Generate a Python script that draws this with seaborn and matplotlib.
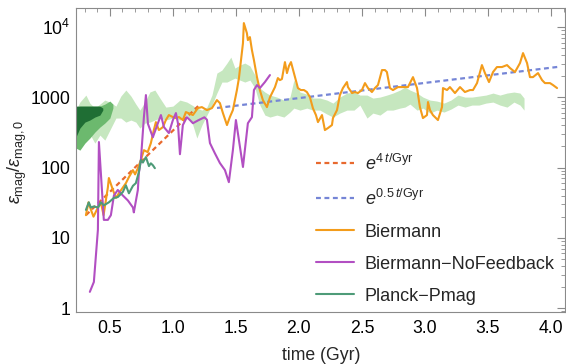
import numpy as np
import pandas as pd
import matplotlib
matplotlib.use("Agg")
import matplotlib.pyplot as plt
import seaborn as sns
from matplotlib.lines import Line2D
from matplotlib.ticker import FixedLocator, FixedFormatter, LogLocator, MultipleLocator, NullFormatter, FormatStrFormatter

# ---------------- data ----------------
# exponential fits (straight lines on the log axis between their end points)
fit4_t = [0.31, 1.20]
fit4_v = [21.0, 750.0]
fit05_t = [1.35, 4.06]
fit05_v = [706.0, 2720.0]

bier_t = [0.31, 0.33, 0.35, 0.37, 0.405, 0.43, 0.45, 0.484, 0.492, 0.524, 0.548, 0.571,
          0.603, 0.627, 0.651, 0.683, 0.70, 0.722, 0.746, 0.77, 0.80, 0.825, 0.849, 0.865,
          0.889, 0.921, 0.944, 0.968, 1.0, 1.024, 1.048, 1.079, 1.103, 1.159, 1.198, 1.23,
          1.27, 1.31, 1.349, 1.373, 1.397, 1.429, 1.452, 1.476, 1.508, 1.524, 1.54, 1.556,
          1.563, 1.587, 1.595, 1.611, 1.627, 1.643, 1.667, 1.69, 1.714, 1.746, 1.77, 1.81,
          1.833, 1.849, 1.865, 1.889, 1.905, 1.921, 1.937, 1.96, 1.992, 2.015, 2.04, 2.063,
          2.087, 2.111, 2.135, 2.151, 2.183, 2.206, 2.23, 2.262, 2.27, 2.302, 2.325, 2.349,
          2.381, 2.389, 2.421, 2.444, 2.468, 2.5, 2.524, 2.548, 2.579, 2.603, 2.627, 2.659,
          2.683, 2.698, 2.722, 2.746, 2.786, 2.825, 2.865, 2.905, 2.937, 2.96, 2.984, 3.016,
          3.024, 3.04, 3.063, 3.103, 3.135, 3.143, 3.175, 3.198, 3.238, 3.278, 3.317, 3.357,
          3.381, 3.413, 3.452, 3.476, 3.508, 3.54, 3.571, 3.611, 3.651, 3.675, 3.714, 3.754,
          3.778, 3.81, 3.833, 3.857, 3.897, 3.929, 3.952, 3.992, 4.016, 4.048]
bier_v = [21, 32, 25, 20, 27, 31, 21, 52, 71, 48, 37, 43,
          52, 60, 73, 92, 80, 98, 128, 177, 166, 222, 343, 444,
          342, 377, 475, 559, 524, 507, 524, 475, 617, 560, 703, 726,
          658, 703, 914, 828, 597, 403, 524, 658, 1270, 1880, 3390, 5920,
          11400, 8220, 6530, 7210, 4710, 3390, 1940, 1270, 914, 726, 1000, 1400,
          1880, 1760, 1820, 3175, 2215, 2800, 3175, 2215, 1355, 1270, 1270, 1190,
          1008, 700, 559, 444, 559, 342, 365, 403, 507, 658, 1077, 1355,
          1650, 1400, 1150, 1190, 1150, 1270, 1595, 1355, 1190, 1355, 1495, 2445,
          2445, 2290, 1355, 1270, 1400, 1400, 1400, 1940, 1355, 726, 507, 559,
          856, 658, 559, 475, 726, 1355, 1270, 1400, 1150, 1400, 1190, 1270,
          1270, 1595, 2880, 2215, 1650, 2290, 2700, 2700, 2880, 2610, 2290, 3075,
          4265, 3075, 1940, 1940, 2215, 1760, 1595, 1595, 1495, 1355]

nofb_t = [0.341, 0.373, 0.405, 0.413, 0.452, 0.484, 0.508, 0.532, 0.563, 0.603, 0.643,
          0.683, 0.69, 0.722, 0.73, 0.746, 0.77, 0.786, 0.802, 0.841, 0.881, 0.905, 0.929,
          0.968, 1.0, 1.024, 1.04, 1.056, 1.079, 1.111, 1.135, 1.159, 1.2, 1.25, 1.27,
          1.294, 1.333, 1.373, 1.413, 1.444, 1.476, 1.5, 1.524, 1.556, 1.595, 1.627,
          1.643, 1.667, 1.69, 1.73, 1.77]
nofb_v = [1.7, 2.35, 13, 231, 18, 18, 21, 40, 48, 40, 34,
          27, 23, 48, 84, 128, 524, 1077, 420, 270, 428, 559, 377,
          310, 475, 597, 428, 155, 403, 522, 475, 428, 470, 520, 480,
          223, 160, 116, 92, 62, 177, 475, 246, 102, 428, 522,
          1270, 1495, 1355, 1650, 2075]

pmag_t = [0.31, 0.333, 0.349, 0.373, 0.405, 0.429, 0.452, 0.492, 0.532, 0.563, 0.603,
          0.627, 0.651, 0.683, 0.706, 0.73, 0.746, 0.762, 0.786, 0.81, 0.825, 0.841, 0.857]
pmag_v = [25, 32, 27, 28, 27, 32, 29, 32, 37, 38, 45,
          56, 43, 55, 60, 86, 128, 118, 141, 105, 115, 108, 98]

# shaded ranges (light, medium, dark green)
light_t = [0.230, 0.262, 0.310, 0.341, 0.381, 0.421, 0.460, 0.500, 0.548, 0.587,
           0.627, 0.667, 0.706, 0.738, 0.778, 0.817, 0.857, 0.897, 0.944, 1.000,
           1.056, 1.111, 1.151, 1.190, 1.230, 1.270, 1.310, 1.349, 1.389, 1.429,
           1.460, 1.492, 1.532, 1.571, 1.611, 1.651, 1.690, 1.730, 1.770, 1.825,
           1.881, 1.929, 1.960, 2.008, 2.063, 2.111, 2.167, 2.222, 2.270, 2.325,
           2.381, 2.437, 2.484, 2.540, 2.587, 2.643, 2.698, 2.746, 2.802, 2.841,
           2.881, 2.937, 2.984, 3.040, 3.095, 3.151, 3.206, 3.262, 3.317, 3.373,
           3.429, 3.484, 3.540, 3.595, 3.651, 3.706, 3.754, 3.786]
light_hi = [658, 856, 1077, 828, 703, 801, 914, 856, 750, 1042,
            1270, 1042, 801, 658, 856, 1190, 1270, 976, 726, 750,
            914, 856, 776, 703, 658, 726, 1077, 2215, 2445, 3075,
            3740, 2610, 2880, 3075, 2800, 2075, 1355, 1190, 1077, 1008,
            914, 1008, 1760, 1190, 1110, 976, 976, 914, 828, 1008,
            1150, 1190, 1077, 1077, 976, 1008, 1077, 1150, 1270, 1400,
            1270, 1150, 1008, 914, 885, 828, 914, 1077, 1008, 1008,
            1042, 1077, 1150, 1077, 1150, 1190, 1150, 976]
light_lo = [190, 200, 263, 300, 223, 290, 246, 342, 507, 507,
            444, 475, 444, 365, 430, 444, 475, 507, 475, 507,
            475, 559, 444, 263, 403, 559, 776, 1150, 1650, 1650,
            1760, 1880, 1760, 1650, 1760, 1355, 776, 559, 524, 559,
            524, 617, 703, 658, 703, 658, 658, 578, 524, 597,
            658, 658, 776, 507, 597, 559, 658, 658, 703, 726,
            801, 658, 703, 597, 658, 617, 680, 776, 726, 776,
            776, 828, 856, 776, 726, 856, 776, 658]

mid_t = [0.230, 0.262, 0.302, 0.341, 0.381, 0.421, 0.460, 0.500, 0.524]
mid_hi = [703, 750, 750, 750, 750, 750, 801, 885, 801]
mid_lo = [190, 177, 223, 263, 320, 377, 430, 507, 703]

dark_t = [0.230, 0.262, 0.302, 0.341, 0.381, 0.421, 0.444]
dark_hi = [750, 750, 750, 750, 750, 750, 703]
dark_lo = [270, 365, 444, 475, 524, 559, 658]

labels = [r"$e^{4\,t/\mathrm{Gyr}}$", r"$e^{0.5\,t/\mathrm{Gyr}}$",
          "Biermann", "Biermann\u2212NoFeedback", "Planck\u2212Pmag"]
ytick_vals = [1, 10, 100, 1000, 10000]
ytick_labels = ["1", "10", "100", "1000", r"$10^4$"]

# ---------------- styling ----------------
C_FIT4 = "#e8692e"
C_FIT05 = "#7585d6"
C_BIER = "#f39c1b"
C_NOFB = "#b24fc2"
C_PMAG = "#4e9b78"
C_LIGHT = "#c6e7bf"
C_MID = "#6cb96e"
C_DARK = "#1f6e34"

sns.set_theme(style="white")
plt.rcParams['font.family'] = ['Liberation Sans', 'DejaVu Sans']
plt.rcParams['mathtext.fontset'] = 'custom'
plt.rcParams['mathtext.rm'] = 'Liberation Sans'
plt.rcParams['mathtext.it'] = 'Liberation Sans:italic'
plt.rcParams['mathtext.bf'] = 'Liberation Sans:bold'

fig = plt.figure(figsize=(5.66, 3.64), dpi=100)
ax = fig.add_axes([0.134, 0.143, 0.864, 0.835])

ax.fill_between(light_t, light_lo, light_hi, color=C_LIGHT, lw=0, zorder=1)
ax.fill_between(mid_t, mid_lo, mid_hi, color=C_MID, lw=0, zorder=1.1)
ax.fill_between(dark_t, dark_lo, dark_hi, color=C_DARK, lw=0, zorder=1.2)

dash = (0, (2.2, 1.6))
sns.lineplot(x=fit4_t, y=fit4_v, ax=ax, color=C_FIT4, lw=1.6, linestyle=dash,
             estimator=None, sort=False, zorder=3)
sns.lineplot(x=fit05_t, y=fit05_v, ax=ax, color=C_FIT05, lw=1.6, linestyle=dash,
             estimator=None, sort=False, zorder=3)
sns.lineplot(x=bier_t, y=bier_v, ax=ax, color=C_BIER, lw=1.5,
             estimator=None, sort=False, zorder=4)
sns.lineplot(x=nofb_t, y=nofb_v, ax=ax, color=C_NOFB, lw=1.5,
             estimator=None, sort=False, zorder=4)
sns.lineplot(x=pmag_t, y=pmag_v, ax=ax, color=C_PMAG, lw=1.5,
             estimator=None, sort=False, zorder=5)

ax.set_yscale('log')
ax.set_xlim(0.23, 4.11)
ax.set_ylim(0.88, 18700)

ax.yaxis.set_major_locator(FixedLocator(ytick_vals))
ax.yaxis.set_major_formatter(FixedFormatter(ytick_labels))
ax.yaxis.set_minor_locator(LogLocator(base=10, subs=np.arange(2, 10)))
ax.yaxis.set_minor_formatter(NullFormatter())
ax.xaxis.set_major_locator(MultipleLocator(0.5))
ax.xaxis.set_minor_locator(MultipleLocator(0.1))
ax.xaxis.set_major_formatter(FormatStrFormatter('%.1f'))

ax.tick_params(which='both', direction='in', top=True, right=True, color='#8a8a8a',
               labelsize=12.7, labelcolor='black')
ax.tick_params(which='major', length=6, width=0.8)
ax.tick_params(which='minor', length=3, width=0.6)
ax.tick_params(axis='x', which='major', pad=6)
ax.tick_params(axis='y', which='major', pad=4)
for sp in ax.spines.values():
    sp.set_color('#8a8a8a')
    sp.set_linewidth(0.8)

ax.set_xlabel("")
ax.set_ylabel("")
fig.text(321 / 566, 1 - 355 / 364, "time (Gyr)", ha='center', va='center', fontsize=12.7)
fig.text(17 / 566, 1 - 162 / 364, r"$\varepsilon_{\mathrm{mag}}/\varepsilon_{\mathrm{mag},0}$",
         ha='center', va='center', rotation=90, fontsize=13)

handles = [Line2D([], [], color=C_FIT4, lw=1.6, linestyle=dash),
           Line2D([], [], color=C_FIT05, lw=1.6, linestyle=dash),
           Line2D([], [], color=C_BIER, lw=1.5),
           Line2D([], [], color=C_NOFB, lw=1.5),
           Line2D([], [], color=C_PMAG, lw=1.5)]
leg = ax.legend(handles, labels, loc='lower left', bbox_to_anchor=(0.476, 0.0),
                frameon=False, fontsize=13, handlelength=2.1, handletextpad=0.6,
                labelspacing=0.83, borderaxespad=0.0)
leg.set_zorder(10)

fig.savefig("out.png", dpi=100)
